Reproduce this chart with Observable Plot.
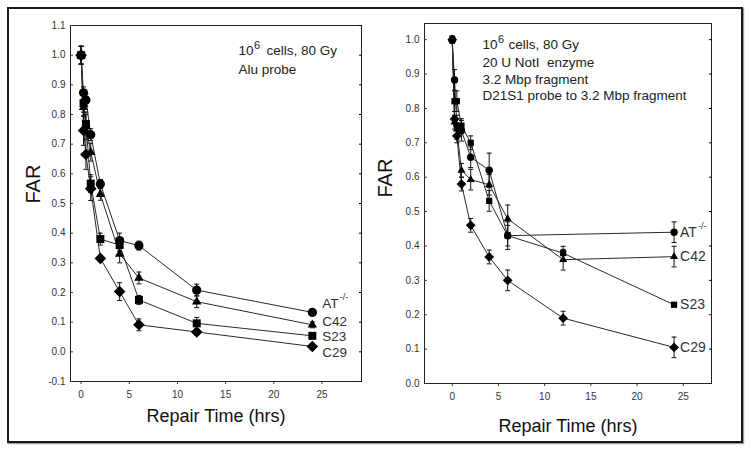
<!DOCTYPE html>
<html><head><meta charset="utf-8">
<script src="https://cdn.jsdelivr.net/npm/d3@7"></script>
<script src="https://cdn.jsdelivr.net/npm/@observablehq/plot@0.6"></script>
<style>
body{margin:0;background:#fff;font-family:"Liberation Sans",Arial,sans-serif;}
#wrap{position:relative;width:751px;height:453px;overflow:hidden;background:#fff;}
#box{position:absolute;left:7px;top:7px;width:732px;height:432px;border:2px solid #1a1a1a;box-shadow:1px 1px 1px #999;}
#left,#right{position:absolute;top:0;}
#left{left:0px;} #right{left:365px;}
svg{overflow:visible;}
</style></head><body>
<div id="wrap"><div id="box"></div><div id="left"></div><div id="right"></div></div>
<script>
// ---- data ----
const seriesNames = ["AT", "C42", "S23", "C29"];
const seriesLabels = ["AT", "C42", "S23", "C29"];
const xTicks = [0, 5, 10, 15, 20, 25];
const yTicksLeft = [-0.1, 0.0, 0.1, 0.2, 0.3, 0.4, 0.5, 0.6, 0.7, 0.8, 0.9, 1.0, 1.1];
const yTicksRight = [0.0, 0.1, 0.2, 0.3, 0.4, 0.5, 0.6, 0.7, 0.8, 0.9, 1.0];

// Left panel (Alu probe)
const timesLeft = [0, 0.25, 0.5, 1, 2, 4, 6, 12, 24];
const farLeftAT  = [1.0, 0.873, 0.849, 0.732, 0.566, 0.375, 0.358, 0.208, 0.133];
const farLeftC42 = [1.0, 0.824, 0.76, 0.673, 0.531, 0.330, 0.249, 0.169, 0.091];
const farLeftS23 = [1.0, 0.838, 0.768, 0.567, 0.380, 0.360, 0.175, 0.096, 0.054];
const farLeftC29 = [1.0, 0.746, 0.665, 0.550, 0.315, 0.203, 0.091, 0.067, 0.018];
const errLeftAT  = [0.03, 0.02, 0.02, 0.02, 0.015, 0.025, 0.015, 0.02, 0.01];
const errLeftC42 = [0.03, 0.03, 0.04, 0.03, 0.02, 0.03, 0.02, 0.02, 0.01];
const errLeftS23 = [0.03, 0.03, 0.04, 0.03, 0.02, 0.02, 0.015, 0.02, 0.01];
const errLeftC29 = [0.03, 0.05, 0.05, 0.04, 0.01, 0.03, 0.02, 0.01, 0.01];
const labelYLeft = [0.163, 0.102, 0.050, -0.004];

// Right panel (D21S1 probe, 3.2 Mbp fragment)
const timesRight = [0, 0.25, 0.5, 1, 2, 4, 6, 12, 24];
const farRightAT  = [1.0, 0.883, 0.75, 0.735, 0.658, 0.62, 0.43, null, 0.44];
const farRightC42 = [1.0, 0.76, 0.74, 0.62, 0.593, 0.578, 0.479, 0.36, 0.369];
const farRightS23 = [1.0, 0.821, 0.821, 0.75, 0.70, 0.531, 0.43, 0.379, 0.229];
const farRightC29 = [1.0, 0.769, 0.72, 0.58, 0.46, 0.368, 0.30, 0.19, 0.105];
const errRightAT  = [0.01, 0.03, 0.03, 0.03, 0.03, 0.05, 0.04, null, 0.03];
const errRightC42 = [0.01, 0.02, 0.03, 0.02, 0.03, 0.03, 0.04, 0.03, 0.03];
const errRightS23 = [0.01, 0.03, 0.03, 0.02, 0.02, 0.03, 0.03, 0.02, 0.005];
const errRightC29 = [0.01, 0.01, 0.02, 0.02, 0.02, 0.02, 0.03, 0.02, 0.03];

const annotHead = ["10", "6", "cells, 80 Gy"];
const annotLeft = "Alu probe";
const annotRight = "20 U NotI  enzyme\n3.2 Mbp fragment\nD21S1 probe to 3.2 Mbp fragment";
const xLabel = "Repair Time (hrs)";
const yLabel = "FAR";
const superLabel = "-/-";

// ---- helpers ----
function buildRows(times, vals, errs) {
  const rows = [];
  seriesNames.forEach((s, i) => {
    times.forEach((t, j) => {
      if (vals[i][j] != null) rows.push({s, t, v: vals[i][j], e: errs[i][j] || 0});
    });
  });
  return rows;
}
const capSymbol = {draw(ctx) { ctx.moveTo(-2.5, 0); ctx.lineTo(2.5, 0); }};
const fontFam = '"Liberation Sans", Arial, sans-serif';

function panel(cfg) {
  const rows = buildRows(cfg.times, cfg.vals, cfg.errs);
  const lastRows = seriesNames.map((s, i) => {
    const r = rows.filter(d => d.s === s);
    return {s, label: seriesLabels[i], t: r[r.length - 1].t, v: cfg.labelY ? cfg.labelY[i] : r[r.length - 1].v};
  });
  const marks = [
    Plot.frame({stroke: "#222", strokeWidth: 1}),
    Plot.axisX({ticks: xTicks, tickSize: 3, tickPadding: 6, fontSize: 10, label: null, color: "#333"}),
    Plot.axisY({ticks: cfg.yTicks, tickSize: -3, tickPadding: 8, fontSize: 10, label: null, tickFormat: d => d.toFixed(1), color: "#333"}),
    Plot.axisY({anchor: "right", ticks: cfg.yTicks, tickSize: -3, tickFormat: () => "", label: null}),
    Plot.line(rows, {x: "t", y: "v", z: "s", stroke: "#2a2a2a", strokeWidth: 1}),
    Plot.ruleX(rows.filter(d => d.e > 0), {x: "t", y1: d => d.v - d.e, y2: d => d.v + d.e, stroke: "#111", strokeWidth: 1}),
    Plot.dot(rows.filter(d => d.e > 0), {x: "t", y: d => d.v + d.e, symbol: capSymbol, stroke: "#111", fill: "none", strokeWidth: 1}),
    Plot.dot(rows.filter(d => d.e > 0), {x: "t", y: d => d.v - d.e, symbol: capSymbol, stroke: "#111", fill: "none", strokeWidth: 1}),
  ];
  seriesNames.forEach((s, i) => {
    marks.push(Plot.dot(rows.filter(d => d.s === s), {x: "t", y: "v", symbol: cfg.sym[i], r: cfg.r[i], fill: "#000", stroke: "none"}));
  });
  const ax = cfg.annotDx, ay = cfg.annotDy;
  marks.push(
    Plot.text(lastRows, {x: "t", y: "v", text: "label", textAnchor: "start", dx: cfg.labelDx, fontSize: cfg.labelSize, fill: "#333"}),
    Plot.text(lastRows.filter(d => d.s === "AT"), {x: "t", y: "v", text: () => superLabel, textAnchor: "start", dx: cfg.labelDx + cfg.labelSize * 1.29, dy: -6, fontSize: 9, fill: "#333"}),
    Plot.text([annotHead[0]], {frameAnchor: "top-left", dx: ax, dy: ay, lineAnchor: "top", fontSize: 13.5, fill: "#222"}),
    Plot.text([annotHead[1]], {frameAnchor: "top-left", dx: ax + 15.5, dy: ay - 4, lineAnchor: "top", fontSize: 11, fill: "#222"}),
    Plot.text([annotHead[2]], {frameAnchor: "top-left", dx: ax + cfg.headGap, dy: ay, lineAnchor: "top", fontSize: 13.5, fill: "#222"}),
    Plot.text([cfg.annot], {frameAnchor: "top-left", dx: ax, dy: ay + cfg.lineStep, lineAnchor: "top", lineHeight: cfg.lineStep / 13.5, fontSize: 13.5, fill: "#222"}),
    Plot.text([xLabel], {frameAnchor: "bottom", dy: cfg.xLabelDy, lineAnchor: "bottom", fontSize: 18, fill: "#111"}),
    Plot.text([yLabel], {frameAnchor: "left", dx: cfg.yLabelDx, dy: cfg.yLabelDy, rotate: -90, lineAnchor: "middle", fontSize: 20, fill: "#111"})
  );
  return Plot.plot({
    width: cfg.width, height: 453,
    marginLeft: cfg.ml, marginRight: cfg.mr, marginTop: cfg.mt, marginBottom: cfg.mb,
    style: {background: "transparent", fontFamily: fontFam, overflow: "visible"},
    x: {domain: cfg.xDomain},
    y: {domain: cfg.yDomain},
    marks
  });
}

document.getElementById("left").append(panel({
  width: 380, ml: 70, mr: 19, mt: 25, mb: 72,
  xDomain: [-1.1, 29.1], yDomain: [-0.1, 1.1], yTicks: yTicksLeft,
  times: timesLeft,
  vals: [farLeftAT, farLeftC42, farLeftS23, farLeftC29],
  errs: [errLeftAT, errLeftC42, errLeftS23, errLeftC29],
  labelY: labelYLeft, labelDx: 10, labelSize: 13.5,
  sym: ["circle", "triangle", "square", "diamond2"], r: [4.6, 3.5, 4.5, 5.2],
  annot: annotLeft, annotDx: 168, annotDy: 20, headGap: 28, lineStep: 16.5,
  xLabelDy: 40, yLabelDx: -37, yLabelDy: 0
}));

document.getElementById("right").append(panel({
  width: 386, ml: 59, mr: 40, mt: 23, mb: 70,
  xDomain: [-3, 28.05], yDomain: [0, 1.047], yTicks: yTicksRight,
  times: timesRight,
  vals: [farRightAT, farRightC42, farRightS23, farRightC29],
  errs: [errRightAT, errRightC42, errRightS23, errRightC29],
  labelY: null, labelDx: 6, labelSize: 14,
  sym: ["circle", "triangle", "square", "diamond2"], r: [3.7, 3.0, 3.5, 4.4],
  annot: annotRight, annotDx: 58, annotDy: 16, headGap: 26, lineStep: 16.3,
  xLabelDy: 48, yLabelDx: -39, yLabelDy: -6
}));
</script>
</body></html>
